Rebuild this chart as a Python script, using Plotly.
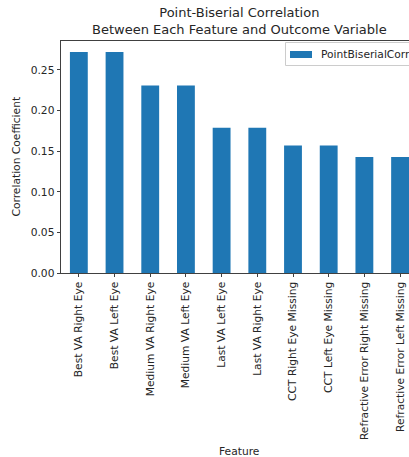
import plotly.graph_objects as go

features = ["Best VA Right Eye", "Best VA Left Eye", "Medium VA Right Eye", "Medium VA Left Eye",
            "Last VA Left Eye", "Last VA Right Eye", "CCT Right Eye Missing", "CCT Left Eye Missing",
            "Refractive Error Right Missing", "Refractive Error Left Missing"]
values = [0.272, 0.272, 0.231, 0.231, 0.179, 0.179, 0.157, 0.157, 0.143, 0.143]
series_name = "PointBiserialCorrelation"
y_ticks = [0.00, 0.05, 0.10, 0.15, 0.20, 0.25]

FONT = "DejaVu Sans"
TXT = "#262626"
AX = "#404040"
BAR = "#1f77b4"
FS = 10.7

# plot area in pixels
L, T, B = 61, 41, 273
W, H = 409, 457
PW, PH = W - L, B - T


def px(xp):
    return (xp - L) / PW


def py(yp):
    return (B - yp) / PH


fig = go.Figure()
fig.add_trace(go.Bar(
    x=list(range(len(features))), y=values, name=series_name,
    marker=dict(color=BAR, line=dict(width=0)),
    width=0.5, showlegend=False,
))

shapes = [
    dict(type="rect", xref="paper", yref="paper", x0=px(285.5), x1=px(440), y0=py(65.5), y1=py(42.5),
         fillcolor="white", line=dict(color="#cccccc", width=1), layer="above"),
    dict(type="rect", xref="paper", yref="paper", x0=px(290), x1=px(312), y0=py(58), y1=py(51),
         fillcolor=BAR, line=dict(width=0), layer="above"),
]

fig.update_layout(
    width=W, height=H,
    margin=dict(l=L, r=0, t=T, b=H - B),
    paper_bgcolor="white", plot_bgcolor="white",
    font=dict(family=FONT, size=FS, color=TXT),
    showlegend=False,
    shapes=shapes,
    xaxis=dict(
        range=[-0.5, 9.25], tickmode="array",
        tickvals=list(range(len(features))), ticktext=features,
        tickangle=-90, ticks="outside", ticklen=3.5, tickwidth=0.8, tickcolor=AX,
        showline=True, linecolor=AX, linewidth=0.8, mirror=True,
        showgrid=False, zeroline=False, automargin=False,
        tickfont=dict(size=FS, family=FONT, color=TXT),
    ),
    yaxis=dict(
        range=[0, 0.2857], tickmode="array", tickvals=y_ticks,
        ticktext=[f"{v:.2f}" for v in y_ticks],
        ticks="outside", ticklen=3.5, tickwidth=0.8, tickcolor=AX,
        showline=True, linecolor=AX, linewidth=0.8, mirror=True,
        showgrid=False, zeroline=False, automargin=False,
        tickfont=dict(size=FS, family=FONT, color=TXT),
    ),
    annotations=[
        dict(text="Point-Biserial Correlation<br>Between Each Feature and Outcome Variable",
             x=4.5, xref="x", y=1, yref="paper", yshift=2, xanchor="center", yanchor="bottom",
             showarrow=False, font=dict(size=13, family=FONT, color=TXT)),
        dict(text="Feature", x=4.5, xref="x", y=0, yref="paper", yshift=-170,
             xanchor="center", yanchor="top", showarrow=False,
             font=dict(size=FS, family=FONT, color=TXT)),
        dict(text="Correlation Coefficient", x=px(15.5), xref="paper", y=0.5, yref="paper",
             xanchor="center", yanchor="middle", textangle=-90, showarrow=False,
             font=dict(size=FS, family=FONT, color=TXT)),
        dict(text=series_name, x=px(319), xref="paper", y=py(54.5), yref="paper",
             xanchor="left", yanchor="middle", showarrow=False,
             font=dict(size=FS, family=FONT, color=TXT)),
    ],
)

fig.write_html("out.html")
